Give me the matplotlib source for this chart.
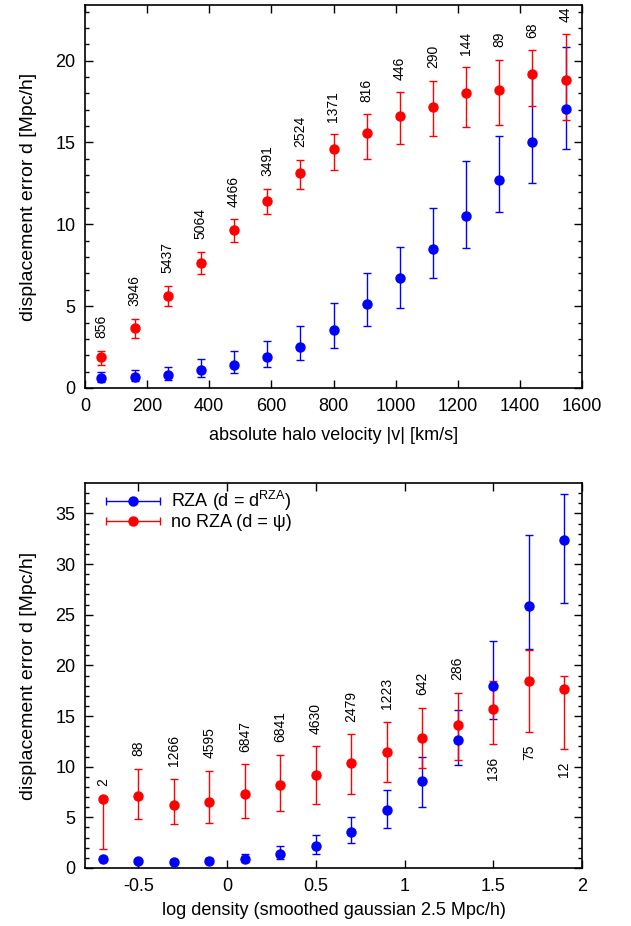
import numpy as np
import matplotlib
matplotlib.use('Agg')
import matplotlib.pyplot as plt
from matplotlib.container import ErrorbarContainer
from matplotlib.legend_handler import HandlerErrorbar

plt.rcParams['font.family'] = ['Liberation Sans', 'DejaVu Sans']
plt.rcParams['mathtext.fontset'] = 'custom'
plt.rcParams['mathtext.rm'] = 'Liberation Sans'
plt.rcParams['mathtext.it'] = 'Liberation Sans:italic'

# --- top panel: error vs halo velocity ---
vel = [53, 160, 267, 373, 480, 587, 693, 800, 907, 1013, 1120, 1227, 1333, 1440, 1547]
vel_rza = [0.61, 0.67, 0.78, 1.08, 1.43, 1.88, 2.53, 3.57, 5.14, 6.71, 8.51, 10.51, 12.71, 15.0, 17.02]
vel_rza_lo = [0.35, 0.41, 0.51, 0.69, 0.92, 1.29, 1.73, 2.45, 3.76, 4.88, 6.73, 8.53, 10.78, 12.51, 14.63]
vel_rza_hi = [0.98, 1.08, 1.29, 1.76, 2.29, 2.86, 3.80, 5.20, 7.02, 8.61, 10.98, 13.88, 15.37, 19.16, 20.84]
vel_psi = [1.88, 3.67, 5.63, 7.65, 9.63, 11.43, 13.12, 14.59, 15.55, 16.59, 17.18, 18.04, 18.22, 19.16, 18.82]
vel_psi_lo = [1.43, 3.04, 5.02, 6.96, 8.90, 10.61, 12.18, 13.31, 14.02, 14.88, 15.41, 15.92, 16.04, 17.20, 16.35]
vel_psi_hi = [2.29, 4.24, 6.24, 8.31, 10.31, 12.16, 13.94, 15.51, 16.71, 18.08, 18.78, 19.61, 20.06, 20.63, 21.61]
vel_counts = ['856', '3946', '5437', '5064', '4466', '3491', '2524', '1371', '816', '446',
              '290', '144', '89', '68', '44']

# --- bottom panel: error vs log density ---
dens = [-0.7, -0.5, -0.3, -0.1, 0.1, 0.3, 0.5, 0.7, 0.9, 1.1, 1.3, 1.5, 1.7, 1.9]
dens_rza = [0.92, 0.69, 0.63, 0.72, 0.92, 1.41, 2.20, 3.59, 5.72, 8.55, 12.63, 17.99, 25.86, 32.37]
dens_rza_lo = [0.75, 0.50, 0.45, 0.47, 0.59, 0.86, 1.41, 2.43, 3.95, 6.02, 10.20, 14.74, 21.58, 26.12]
dens_rza_hi = [1.10, 0.90, 0.80, 0.98, 1.41, 2.14, 3.22, 5.07, 7.73, 10.95, 15.63, 22.37, 32.83, 36.88]
dens_psi = [6.81, 7.11, 6.18, 6.51, 7.30, 8.16, 9.14, 10.33, 11.48, 12.83, 14.08, 15.69, 18.45, 17.63]
dens_psi_lo = [1.84, 4.80, 4.34, 4.47, 4.97, 5.66, 6.35, 7.34, 8.52, 9.90, 10.63, 12.20, 13.42, 11.71]
dens_psi_hi = [6.90, 9.80, 8.82, 9.61, 10.26, 11.18, 12.01, 13.22, 14.44, 15.82, 17.30, 18.45, 21.55, 18.95]
dens_counts = ['2', '88', '1266', '4595', '6847', '6841', '4630', '2479', '1223', '642',
               '286', '136', '75', '12']
dens_below = [False] * 11 + [True] * 3

BLUE = '#0000ff'
RED = '#ff0000'
eb_kw = dict(fmt='o', ms=6.5, capsize=3, elinewidth=1.0, capthick=1.0, zorder=3)


def errs(y, lo, hi):
    y = np.array(y)
    return [y - np.array(lo), np.array(hi) - y]


def style(ax):
    ax.tick_params(which='both', direction='in', top=True, right=True, labelsize=13)
    ax.tick_params(which='major', length=6, width=1.0, pad=7)
    ax.tick_params(which='minor', length=3, width=1.0)
    for s in ax.spines.values():
        s.set_linewidth(1.2)


fig = plt.figure(figsize=(6.31, 9.26), dpi=100)

ax1 = fig.add_axes([85 / 631, 1 - 388 / 926, 497 / 631, 383 / 926])
ax1.errorbar(vel, vel_rza, yerr=errs(vel_rza, vel_rza_lo, vel_rza_hi), color=BLUE, **eb_kw)
ax1.errorbar(vel, vel_psi, yerr=errs(vel_psi, vel_psi_lo, vel_psi_hi), color=RED, **eb_kw)
for x, top, txt in zip(vel, vel_psi_hi, vel_counts):
    ax1.annotate(txt, (x, top), xytext=(0, 9), textcoords='offset points',
                 rotation=90, ha='center', va='bottom', fontsize=10)
ax1.set_xlim(0, 1600)
ax1.set_ylim(0, 23.4)
ax1.set_xticks(np.arange(0, 1601, 200))
ax1.set_yticks(np.arange(0, 21, 5))
ax1.set_yticks(np.arange(0, 24, 1), minor=True)
ax1.set_xlabel('absolute halo velocity |v| [km/s]', fontsize=13, labelpad=9)
ax1.set_ylabel('displacement error d [Mpc/h]', fontsize=14, labelpad=13)
style(ax1)

ax2 = fig.add_axes([85 / 631, 1 - 868 / 926, 497 / 631, 385 / 926])
ax2.errorbar(dens, dens_rza, yerr=errs(dens_rza, dens_rza_lo, dens_rza_hi), color=BLUE, **eb_kw)
ax2.errorbar(dens, dens_psi, yerr=errs(dens_psi, dens_psi_lo, dens_psi_hi), color=RED, **eb_kw)
for x, lo, hi, txt, below in zip(dens, dens_psi_lo, dens_psi_hi, dens_counts, dens_below):
    if below:
        ax2.annotate(txt, (x, lo), xytext=(0, -9), textcoords='offset points',
                     rotation=90, ha='center', va='top', fontsize=10)
    else:
        ax2.annotate(txt, (x, hi), xytext=(0, 9), textcoords='offset points',
                     rotation=90, ha='center', va='bottom', fontsize=10)

# legend proxies with horizontal bars, gnuplot style
p_rza = ax2.errorbar([np.nan], [np.nan], xerr=[1], color=BLUE, label=r'RZA (d = d$^{\mathrm{RZA}}$)', **eb_kw)
p_psi = ax2.errorbar([np.nan], [np.nan], xerr=[1], color=RED, label='no RZA (d = ψ)', **eb_kw)
ax2.legend(handles=[p_rza, p_psi], handler_map={ErrorbarContainer: HandlerErrorbar(xerr_size=1.5)},
           loc='upper left', bbox_to_anchor=(0.02, 1.013), frameon=False, fontsize=13,
           handlelength=3.0, handletextpad=0.6, labelspacing=0.05, borderpad=0.1)

ax2.set_xlim(-0.8, 2)
ax2.set_ylim(0, 38)
ax2.set_xticks([-0.5, 0, 0.5, 1, 1.5, 2])
ax2.set_xticklabels(['-0.5', '0', '0.5', '1', '1.5', '2'])
ax2.set_yticks(np.arange(0, 36, 5))
ax2.set_yticks(np.arange(0, 38, 1), minor=True)
ax2.set_xlabel('log density (smoothed gaussian 2.5 Mpc/h)', fontsize=13, labelpad=5.5)
ax2.set_ylabel('displacement error d [Mpc/h]', fontsize=14, labelpad=13)
style(ax2)

fig.savefig('out.png', dpi=100)
